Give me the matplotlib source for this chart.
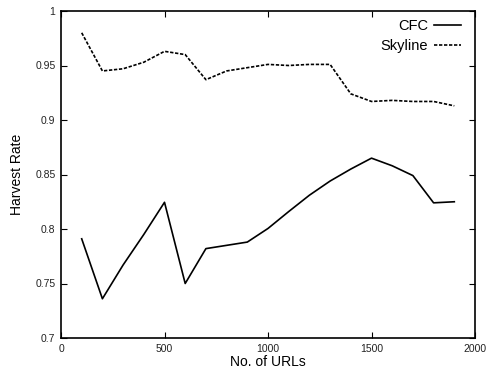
import matplotlib
matplotlib.use("Agg")
import matplotlib.pyplot as plt

plt.rcParams["font.family"] = ["Liberation Sans", "DejaVu Sans"]

urls = [100, 200, 300, 400, 500, 600, 700, 800, 900, 1000,
        1100, 1200, 1300, 1400, 1500, 1600, 1700, 1800, 1900]
cfc = [0.791, 0.736, 0.767, 0.795, 0.8245, 0.750, 0.782, 0.785, 0.788, 0.8005,
       0.816, 0.831, 0.844, 0.855, 0.865, 0.858, 0.849, 0.824, 0.825]
skyline = [0.980, 0.945, 0.947, 0.953, 0.963, 0.960, 0.937, 0.945, 0.948, 0.951,
           0.950, 0.951, 0.951, 0.924, 0.917, 0.918, 0.917, 0.917, 0.913]

fig = plt.figure(figsize=(4.86, 3.72), dpi=100)
ax = fig.add_axes([61 / 486, 34 / 372, 414 / 486, 327 / 372])

ax.plot(urls, cfc, color="black", lw=1.2, label="CFC")
ax.plot(urls, skyline, color="black", lw=1.2, ls=(0, (2, 1)), label="Skyline")

ax.set_xlim(0, 2000)
ax.set_ylim(0.7, 1.0)
ax.set_xticks([0, 500, 1000, 1500, 2000])
ax.set_yticks([0.7, 0.75, 0.8, 0.85, 0.9, 0.95, 1.0])
ax.set_yticklabels(["0.7", "0.75", "0.8", "0.85", "0.9", "0.95", "1"])
ax.tick_params(direction="in", top=True, right=True, labelsize=7.5,
               length=4, width=0.8, pad=4, colors="black", labelcolor="#222222")
for s in ax.spines.values():
    s.set_linewidth(1.2)

ax.set_xlabel("No. of URLs", fontsize=10, labelpad=1)
ax.set_ylabel("Harvest Rate", fontsize=10, labelpad=8)

ax.legend(loc="upper right", bbox_to_anchor=(1, 1.018), frameon=False,
          markerfirst=False, fontsize=10.5, handlelength=1.85,
          handletextpad=0.4, borderaxespad=0.55, labelspacing=0.4)

fig.savefig("out.png", dpi=100)
